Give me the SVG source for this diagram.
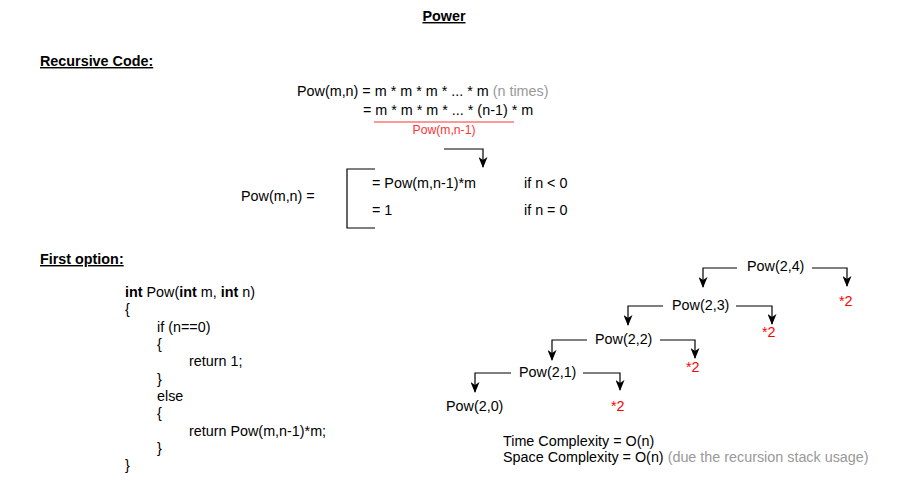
<svg xmlns="http://www.w3.org/2000/svg" width="908" height="484" viewBox="0 0 908 484">
<style>
text{font-family:"Liberation Sans",Arial,Helvetica,sans-serif;font-size:14.35px;fill:#000}
.h{font-weight:bold;text-decoration:underline}
.g{fill:#999}
.r{fill:#FF0000}
.sm{font-size:12.2px;fill:#FF3333}
.b{font-weight:bold}
.e{fill:none;stroke:#000;stroke-width:1.2}
</style>
<defs>
<marker id="ah" viewBox="0 0 11 9" refX="10" refY="4.5" markerWidth="11" markerHeight="9" markerUnits="userSpaceOnUse" orient="auto">
<path d="M0,0 L11,4.5 L0,9 L3,4.5 Z" fill="#000"/>
</marker>
</defs>
<rect width="908" height="484" fill="#fff"/>

<g id="title"><text class="h" x="444" y="21" text-anchor="middle">Power</text></g>
<g id="heading-recursive"><text class="h" x="40" y="66">Recursive Code:</text></g>

<g id="formula">
<text x="297" y="96">Pow(m,n) = m * m * m * ... * m <tspan class="g">(n times)</tspan></text>
<text x="363" y="115">= m * m * m * ... * (n-1) * m</text>
<line x1="374" y1="122" x2="514" y2="122" stroke="#FF3333" stroke-width="1"/>
<text class="sm" x="444" y="134" text-anchor="middle">Pow(m,n-1)</text>
</g>

<g id="definition">
<text x="241" y="201">Pow(m,n) =</text>
<path class="e" d="M375,169 H347 V228 H375"/>
<text x="372" y="188">= Pow(m,n-1)*m</text>
<text x="524" y="188">if n &lt; 0</text>
<text x="372" y="215">= 1</text>
<text x="524" y="215">if n = 0</text>
</g>

<g id="heading-first"><text class="h" x="40" y="264">First option:</text></g>

<g id="code">
<text x="125" y="297"><tspan class="b">int</tspan> Pow(<tspan class="b">int</tspan> m, <tspan class="b">int</tspan> n)</text>
<text x="125" y="314">{</text>
<text x="157" y="332">if (n==0)</text>
<text x="157" y="349">{</text>
<text x="189" y="366">return 1;</text>
<text x="157" y="384">}</text>
<text x="157" y="401">else</text>
<text x="157" y="418">{</text>
<text x="189" y="436">return Pow(m,n-1)*m;</text>
<text x="157" y="453">}</text>
<text x="125" y="470">}</text>
</g>

<g id="n24"><text x="747" y="271">Pow(2,4)</text></g>
<g id="m24"><text class="r" x="839" y="306">*2</text></g>
<g id="n23"><text x="672" y="310">Pow(2,3)</text></g>
<g id="m23"><text class="r" x="762" y="337">*2</text></g>
<g id="n22"><text x="595" y="344">Pow(2,2)</text></g>
<g id="m22"><text class="r" x="686" y="372">*2</text></g>
<g id="n21"><text x="519" y="377">Pow(2,1)</text></g>
<g id="m21"><text class="r" x="611" y="411">*2</text></g>
<g id="n20"><text x="446" y="411">Pow(2,0)</text></g>

<g id="connectors">
<path class="e" d="M444,149 H483 V167" marker-end="url(#ah)"/>
<path class="e" d="M737,268 H703 V287" marker-end="url(#ah)"/>
<path class="e" d="M812,268 H847 V286" marker-end="url(#ah)"/>
<path class="e" d="M663,306 H628 V325" marker-end="url(#ah)"/>
<path class="e" d="M736,306 H772 V324" marker-end="url(#ah)"/>
<path class="e" d="M587,340 H552 V360" marker-end="url(#ah)"/>
<path class="e" d="M660,340 H695 V358" marker-end="url(#ah)"/>
<path class="e" d="M511,373 H475 V392" marker-end="url(#ah)"/>
<path class="e" d="M583,373 H620 V390" marker-end="url(#ah)"/>
</g>

<g id="complexity">
<text x="503" y="446">Time Complexity = O(n)</text>
<text x="503" y="462">Space Complexity = O(n) <tspan class="g">(due the recursion stack usage)</tspan></text>
</g>
</svg>
